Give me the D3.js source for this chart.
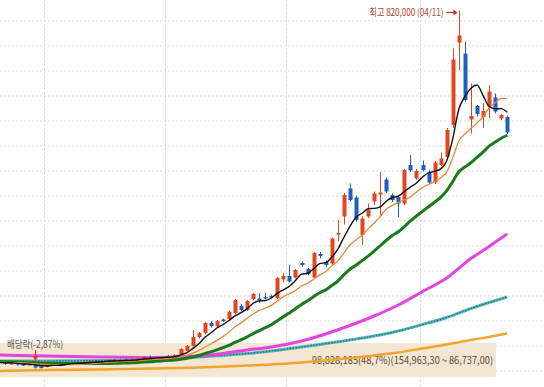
<!DOCTYPE html>
<html>
<head>
<meta charset="utf-8">
<script src="https://cdn.jsdelivr.net/npm/d3@7"></script>
<style>
  html, body { margin: 0; padding: 0; background: #fff; overflow: hidden; }
  svg { display: block; }
</style>
</head>
<body>
<svg id="chart"></svg>
<script>
// trading days, 2022-12-20 .. 2023-04-21
const dates = [
  "12/20","12/21","12/22","12/23","12/26","12/27","12/28","12/29",
  "01/02","01/03","01/04","01/05","01/06","01/09","01/10","01/11","01/12","01/13",
  "01/16","01/17","01/18","01/19","01/20","01/25","01/26","01/27","01/30","01/31",
  "02/01","02/02","02/03","02/06","02/07","02/08","02/09","02/10","02/13","02/14",
  "02/15","02/16","02/17","02/20","02/21","02/22","02/23","02/24","02/27","02/28",
  "03/02","03/03","03/06","03/07","03/08","03/09","03/10","03/13","03/14","03/15",
  "03/16","03/17","03/20","03/21","03/22","03/23","03/24","03/27","03/28","03/29",
  "03/30","03/31",
  "04/03","04/04","04/05","04/06","04/07","04/10","04/11","04/12","04/13","04/14",
  "04/17","04/18","04/19","04/20","04/21"
];
const monthStarts = ["01/02", "02/01", "03/02", "04/03"];

const opens = [
  118000,116000,113000,115000,113000,111000,110000,108000,
  107000,112000,116000,115000,113000,117000,115000,116000,119000,117000,
  118000,121000,119000,122000,120000,121000,123000,127000,126000,127000,
  125000,129000,133000,139000,149000,167000,175000,195000,189000,202000,
  203000,215000,229000,221000,243000,244000,247000,249000,245000,282000,
  289000,286000,315000,303000,286000,333000,317000,314000,373000,408000,
  464000,446000,371000,408000,438000,452000,482000,451000,447000,434000,
  511000,484000,
  511000,497000,476000,511000,527000,591000,756000,734000,602000,629000,
  607000,629000,646000,604000,607000
];
const highs = [
  120000,118000,117000,117000,115000,116000,112000,110000,
  113000,116000,118000,117000,118000,118000,119000,120000,121000,121000,
  122000,123000,123000,124000,124000,126000,129000,130000,129000,128000,
  131000,133000,145000,151000,181000,177000,197000,199000,201000,204000,
  219000,243000,233000,241000,255000,255000,255000,252000,287000,295000,
  311000,303000,318000,305000,337000,337000,320000,366000,401000,455000,
  474000,450000,408000,434000,458000,497000,486000,454000,450000,503000,
  531000,503000,
  520000,500000,519000,536000,585000,744000,820000,758000,674000,631000,
  635000,671000,654000,613000,610000
];
const lows = [
  112000,111000,111000,110000,109000,110000,104000,104000,
  106000,110000,112000,111000,112000,113000,114000,115000,116000,116000,
  117000,118000,118000,119000,119000,120000,120000,124000,125000,123000,
  124000,128000,132000,138000,148000,164000,173000,186000,187000,197000,
  201000,213000,219000,219000,241000,235000,243000,244000,243000,277000,
  276000,284000,308000,291000,284000,324000,308000,312000,358000,392000,
  438000,398000,351000,405000,431000,411000,455000,437000,407000,431000,
  497000,481000,
  498000,473000,473000,508000,524000,585000,701000,638000,574000,608000,
  585000,605000,614000,601000,573000
];
const closes = [
  114000,113000,115000,112000,111000,113000,106000,106000,
  112000,114000,114000,113000,116000,115000,117000,119000,117000,119000,
  121000,119000,121000,120000,122000,125000,127000,125000,127000,125000,
  129000,131000,143000,149000,167000,175000,195000,189000,199000,200000,
  217000,241000,221000,239000,253000,242000,245000,246000,285000,289000,
  278000,301000,311000,293000,335000,329000,311000,364000,375000,451000,
  441000,401000,404000,421000,454000,456000,458000,441000,434000,501000,
  500000,499000,
  501000,476000,516000,524000,581000,722000,770000,641000,609000,613000,
  619000,658000,618000,611000,576000
];
// closes of the 19 sessions before the window (estimated from where the MAs start)
const priorCloses = [
  121000,119000,118000,120000,122000,119000,117000,116000,118000,120000,
  119000,117000,115000,116000,118000,117000,116000,118000,117000
];

// long moving averages at these sessions
const maIdx  = [0, 8, 17, 25, 33, 41, 45, 50, 58, 62, 66, 70, 74, 78, 81, 84];
const ma60   = [131000,129000,127000,126000,129000,141000,147000,159000,190000,209000,231000,258000,285000,324000,348000,373000];
const ma120  = [119000,119000,120000,121000,127000,134000,139000,147000,161000,169000,179000,192000,206000,224000,236000,247000];
const ma240  = [99000,101000,102000,104000,106000,110000,112000,116000,125000,130000,136000,144000,152000,161000,167000,174000];

// price band (volume profile range)
const bandLabel = "98,828,185(48,7%)(154,963,30 ~ 86,737,00)";
const bandLow = 86737, bandHigh = 154963;
const peakLabel = "최고 820,000 (04/11)";
const exDivLabel = "배당락(-2,87%)";
const exDivDate = "12/28";
const peakDate = "04/11";

const width = 544, height = 387;
const svg = d3.select("#chart").attr("width", width).attr("height", height);

const x = d3.scaleBand().domain(dates).range([-4, 510.25]).padding(0);
const xc = d => x(d) + x.bandwidth() / 2;
const y = d3.scaleLinear().domain([100000, 800000]).range([370.5, 20.5]);

// grid
const gy = svg.append("g")
  .call(d3.axisLeft(y).tickValues(d3.range(100000, 850000, 50000)).tickSize(-width).tickFormat(""));
gy.select(".domain").remove();
gy.selectAll("line").attr("stroke", "#d9d9d9").attr("stroke-dasharray", "2,2");

const gx = svg.append("g")
  .call(d3.axisBottom(x).tickValues(monthStarts).tickSize(height).tickFormat(""));
gx.select(".domain").remove();
gx.selectAll(".tick").attr("transform", d => `translate(${Math.round(x(d)) + 0.5},0)`);
gx.selectAll("line").attr("stroke", "#d9d9d9").attr("stroke-dasharray", "2,2");

// band
svg.append("rect")
  .attr("x", 0).attr("width", 496)
  .attr("y", y(bandHigh)).attr("height", y(bandLow) - y(bandHigh))
  .attr("fill", "#f3e6d2");
svg.append("text")
  .attr("x", 493).attr("y", 363.5)
  .attr("text-anchor", "end")
  .attr("font-family", "'Noto Sans CJK KR', 'Noto Sans', sans-serif")
  .attr("font-size", 10)
  .attr("textLength", 181).attr("lengthAdjust", "spacingAndGlyphs")
  .attr("fill", "#5c4a2c")
  .text(bandLabel);

// moving averages
const all = priorCloses.concat(closes);
const sma = n => closes.map((_, i) => d3.mean(all.slice(i + priorCloses.length - n + 1, i + priorCloses.length + 1)));
const ma5 = sma(5), ma10 = sma(10), ma20 = sma(20);

const lineIdx = d3.line().x(d => xc(dates[d[0]])).y(d => y(d[1])).curve(d3.curveMonotoneX);
const sampled = vals => maIdx.map((k, i) => [k, vals[i]]);
const full = vals => vals.map((v, i) => [i, v]);

svg.append("path").attr("d", lineIdx(sampled(ma240)))
  .attr("fill", "none").attr("stroke", "#f0a52c").attr("stroke-width", 2.4);
svg.append("path").attr("d", lineIdx(sampled(ma120)))
  .attr("fill", "none").attr("stroke", "#58b4b8").attr("stroke-width", 3);
svg.append("path").attr("d", lineIdx(sampled(ma120)))
  .attr("fill", "none").attr("stroke", "#23717a").attr("stroke-width", 1.2).attr("stroke-dasharray", "1.5,1.5");
svg.append("path").attr("d", lineIdx(sampled(ma60)))
  .attr("fill", "none").attr("stroke", "#e245e0").attr("stroke-width", 3);

// candles
const g = svg.append("g");
dates.forEach((d, i) => {
  const up = closes[i] >= opens[i];
  const col = up ? "#e3461f" : "#1e5fc2";
  const cx = Math.round(xc(d));
  g.append("line")
    .attr("x1", cx + 0.5).attr("x2", cx + 0.5)
    .attr("y1", y(highs[i])).attr("y2", y(lows[i]))
    .attr("stroke", col).attr("stroke-width", 1);
  const top = y(Math.max(opens[i], closes[i]));
  const h = Math.max(1.5, Math.abs(y(opens[i]) - y(closes[i])));
  g.append("rect")
    .attr("x", cx - 1.5).attr("width", 4)
    .attr("y", top).attr("height", h)
    .attr("fill", col);
});

svg.append("path").attr("d", lineIdx(full(ma20)))
  .attr("fill", "none").attr("stroke", "#197a1b").attr("stroke-width", 3);
svg.append("path").attr("d", lineIdx(full(ma10)))
  .attr("fill", "none").attr("stroke", "#e4893a").attr("stroke-width", 1.3);
svg.append("path").attr("d", lineIdx(full(ma5)))
  .attr("fill", "none").attr("stroke", "#111").attr("stroke-width", 1.4);

// annotations
const px = Math.round(xc(peakDate)) + 0.5;
const py = y(highs[dates.indexOf(peakDate)]) + 2;
svg.append("text")
  .attr("x", px - 16).attr("y", py + 3.5)
  .attr("text-anchor", "end")
  .attr("font-family", "'Noto Sans CJK KR', sans-serif")
  .attr("font-size", 10)
  .attr("textLength", 74).attr("lengthAdjust", "spacingAndGlyphs")
  .attr("fill", "#b03c30")
  .text(peakLabel);
svg.append("line")
  .attr("x1", px - 13).attr("x2", px - 4).attr("y1", py).attr("y2", py)
  .attr("stroke", "#b03c30").attr("stroke-width", 1.2);
svg.append("path")
  .attr("d", `M${px - 2},${py} L${px - 6},${py - 3} L${px - 6},${py + 3} Z`)
  .attr("fill", "#b03c30");

const ex = Math.round(xc(exDivDate)) + 0.5;
svg.append("text")
  .attr("x", 7).attr("y", 347.5)
  .attr("font-family", "'Noto Sans CJK KR', sans-serif")
  .attr("font-size", 10)
  .attr("textLength", 56).attr("lengthAdjust", "spacingAndGlyphs")
  .attr("fill", "#555")
  .text(exDivLabel);
svg.append("line")
  .attr("x1", ex).attr("x2", ex).attr("y1", 350).attr("y2", 357)
  .attr("stroke", "#e8333a").attr("stroke-width", 1.2);
svg.append("path")
  .attr("d", `M${ex},${361} L${ex - 3},${356} L${ex + 3},${356} Z`)
  .attr("fill", "#e8333a");
</script>
</body>
</html>
